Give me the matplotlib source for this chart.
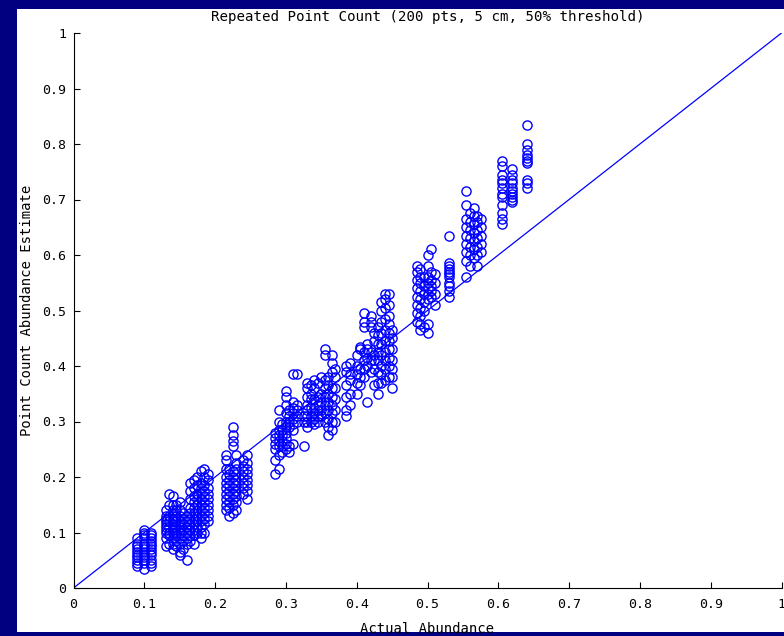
import matplotlib
matplotlib.use("Agg")
import matplotlib.pyplot as plt
from matplotlib.patches import Rectangle

# actual abundance (x) per column and the point count estimates (y)
x_a = [0.09, 0.10, 0.11]
y_a = [[0.040, 0.045, 0.050, 0.055, 0.060, 0.065, 0.070, 0.075, 0.080, 0.090],
       [0.035, 0.045, 0.050, 0.055, 0.060, 0.065, 0.070, 0.075, 0.080, 0.090, 0.095, 0.100, 0.105],
       [0.040, 0.045, 0.050, 0.060, 0.065, 0.070, 0.075, 0.080, 0.085, 0.090, 0.095, 0.100]]

x_b = [0.13, 0.135, 0.14, 0.145, 0.15, 0.155, 0.16]
y_b = [[0.075, 0.090, 0.100, 0.105, 0.110, 0.115, 0.120, 0.125, 0.130, 0.140],
       [0.080, 0.095, 0.100, 0.110, 0.120, 0.130, 0.150, 0.170],
       [0.070, 0.080, 0.090, 0.100, 0.105, 0.110, 0.115, 0.120, 0.125, 0.130, 0.140, 0.150, 0.165],
       [0.075, 0.085, 0.095, 0.100, 0.110, 0.120, 0.130, 0.140, 0.150],
       [0.060, 0.065, 0.080, 0.090, 0.100, 0.105, 0.110, 0.115, 0.120, 0.130, 0.140, 0.155],
       [0.070, 0.085, 0.095, 0.105, 0.115, 0.125, 0.135],
       [0.050, 0.080, 0.090, 0.100, 0.110, 0.120, 0.130]]

x_c = [0.165, 0.17, 0.175, 0.18, 0.185, 0.19]
y_c = [[0.085, 0.095, 0.105, 0.115, 0.125, 0.135, 0.145, 0.160, 0.175, 0.190],
       [0.080, 0.095, 0.105, 0.115, 0.125, 0.135, 0.145, 0.155, 0.165, 0.180, 0.195],
       [0.100, 0.110, 0.120, 0.130, 0.140, 0.150, 0.160, 0.170, 0.185, 0.200],
       [0.090, 0.100, 0.110, 0.120, 0.130, 0.140, 0.150, 0.160, 0.170, 0.180, 0.190, 0.210],
       [0.100, 0.115, 0.125, 0.135, 0.145, 0.155, 0.165, 0.175, 0.185, 0.200, 0.215],
       [0.120, 0.130, 0.140, 0.150, 0.160, 0.170, 0.180, 0.195, 0.205]]

x_d = [0.215, 0.22, 0.225, 0.23, 0.24, 0.245]
y_d = [[0.140, 0.150, 0.160, 0.170, 0.180, 0.190, 0.200, 0.215, 0.230, 0.240],
       [0.130, 0.145, 0.155, 0.165, 0.175, 0.185, 0.195, 0.205, 0.215],
       [0.135, 0.150, 0.160, 0.170, 0.180, 0.190, 0.200, 0.210, 0.255, 0.265, 0.275, 0.290],
       [0.140, 0.155, 0.165, 0.175, 0.185, 0.195, 0.205, 0.215, 0.225, 0.240],
       [0.170, 0.180, 0.190, 0.200, 0.210, 0.220, 0.230],
       [0.160, 0.175, 0.185, 0.195, 0.205, 0.215, 0.225, 0.240]]

x_e = [0.285, 0.29, 0.295, 0.30, 0.305, 0.31, 0.315]
y_e = [[0.205, 0.230, 0.250, 0.260, 0.270, 0.280],
       [0.215, 0.240, 0.255, 0.265, 0.275, 0.285, 0.300, 0.320],
       [0.245, 0.255, 0.265, 0.275, 0.285, 0.295],
       [0.250, 0.260, 0.270, 0.280, 0.290, 0.300, 0.315, 0.330, 0.345, 0.355],
       [0.245, 0.255, 0.290, 0.300, 0.310, 0.320],
       [0.260, 0.285, 0.295, 0.305, 0.315, 0.325, 0.335, 0.385],
       [0.300, 0.310, 0.320, 0.330, 0.385]]

x_f = [0.325, 0.33, 0.335, 0.34, 0.345, 0.35, 0.355, 0.36, 0.365, 0.37]
y_f = [[0.255, 0.300, 0.310],
       [0.290, 0.300, 0.310, 0.320, 0.330, 0.345, 0.360, 0.370],
       [0.300, 0.310, 0.325, 0.340, 0.350, 0.365],
       [0.295, 0.305, 0.315, 0.325, 0.340, 0.360, 0.375],
       [0.300, 0.310, 0.320, 0.330, 0.345, 0.370],
       [0.310, 0.320, 0.335, 0.350, 0.380],
       [0.300, 0.315, 0.330, 0.345, 0.360, 0.375, 0.420, 0.430],
       [0.275, 0.290, 0.305, 0.320, 0.335, 0.350, 0.365, 0.380],
       [0.285, 0.300, 0.315, 0.330, 0.345, 0.360, 0.390, 0.405, 0.420],
       [0.300, 0.320, 0.340, 0.360, 0.380, 0.395]]

x_g = [0.385, 0.39, 0.40, 0.405, 0.41, 0.415, 0.42, 0.425, 0.43, 0.435, 0.44, 0.445, 0.45]
y_g = [[0.310, 0.320, 0.345, 0.365, 0.390, 0.400],
       [0.330, 0.350, 0.375, 0.385, 0.405],
       [0.350, 0.370, 0.385, 0.400, 0.420],
       [0.365, 0.380, 0.395, 0.430, 0.435],
       [0.380, 0.395, 0.410, 0.425, 0.470, 0.480, 0.495],
       [0.335, 0.400, 0.415, 0.430, 0.440],
       [0.390, 0.410, 0.425, 0.470, 0.480, 0.490],
       [0.365, 0.395, 0.410, 0.420, 0.445, 0.460],
       [0.350, 0.370, 0.390, 0.410, 0.425, 0.440, 0.455, 0.470],
       [0.370, 0.385, 0.400, 0.420, 0.440, 0.460, 0.480, 0.500, 0.515],
       [0.375, 0.395, 0.410, 0.425, 0.445, 0.465, 0.485, 0.505, 0.520, 0.530],
       [0.380, 0.400, 0.415, 0.430, 0.445, 0.460, 0.475, 0.490, 0.510, 0.530],
       [0.360, 0.380, 0.395, 0.410, 0.430, 0.450, 0.465]]

x_h = [0.485, 0.49, 0.495, 0.50, 0.505, 0.51, 0.53]
y_h = [[0.480, 0.495, 0.510, 0.525, 0.540, 0.555, 0.570, 0.580],
       [0.465, 0.475, 0.490, 0.505, 0.520, 0.535, 0.550, 0.560, 0.575],
       [0.470, 0.500, 0.515, 0.530, 0.545, 0.560],
       [0.460, 0.475, 0.520, 0.530, 0.540, 0.550, 0.560, 0.580, 0.600],
       [0.525, 0.535, 0.545, 0.555, 0.570, 0.610],
       [0.510, 0.530, 0.550, 0.565],
       [0.525, 0.535, 0.545, 0.550, 0.560, 0.565, 0.570, 0.575, 0.580, 0.585, 0.635]]

x_i = [0.555, 0.56, 0.565, 0.57, 0.575]
y_i = [[0.560, 0.590, 0.605, 0.620, 0.635, 0.650, 0.665, 0.690, 0.715],
       [0.580, 0.600, 0.615, 0.630, 0.645, 0.660, 0.675],
       [0.595, 0.610, 0.625, 0.640, 0.655, 0.670, 0.685],
       [0.580, 0.600, 0.615, 0.630, 0.645, 0.660, 0.670],
       [0.605, 0.620, 0.635, 0.650, 0.665]]

x_j = [0.605, 0.62, 0.64]
y_j = [[0.655, 0.665, 0.675, 0.690, 0.705, 0.710, 0.720, 0.730, 0.735, 0.745, 0.760, 0.770],
       [0.695, 0.700, 0.705, 0.710, 0.715, 0.720, 0.730, 0.735, 0.745, 0.755],
       [0.720, 0.730, 0.735, 0.765, 0.770, 0.775, 0.780, 0.790, 0.800, 0.835]]

ticks = [0, 0.1, 0.2, 0.3, 0.4, 0.5, 0.6, 0.7, 0.8, 0.9, 1]
tick_labels = ["0", "0.1", "0.2", "0.3", "0.4", "0.5", "0.6", "0.7", "0.8", "0.9", "1"]

plt.rcParams['font.family'] = ['DejaVu Sans Mono']
plt.rcParams['font.size'] = 9.5

W, H = 784, 636
fig = plt.figure(figsize=(W / 100, H / 100), dpi=100, facecolor='#000080')
# white panel behind the axes
fig.patches.append(Rectangle((17 / W, 1 - 632 / H), (W - 17) / W, (632 - 9) / H,
                             transform=fig.transFigure, facecolor='white',
                             edgecolor='none', zorder=-5))

ax = fig.add_axes([73.5 / W, 1 - 588 / H, (781.5 - 73.5) / W, (588 - 33) / H])
ax.set_zorder(2)
ax.set_facecolor('white')

xs, ys = [], []
for xc, yc in [(x_a, y_a), (x_b, y_b), (x_c, y_c), (x_d, y_d), (x_e, y_e),
               (x_f, y_f), (x_g, y_g), (x_h, y_h), (x_i, y_i), (x_j, y_j)]:
    for xv, col in zip(xc, yc):
        xs += [xv] * len(col)
        ys += col

ax.plot(xs, ys, 'o', mfc='none', mec='#0000ff', ms=6.6, mew=1.0, clip_on=False)
ax.plot([0, 1], [0, 1], '-', color='#0000ff', lw=0.9)

ax.set_xlim(0, 1)
ax.set_ylim(0, 1)
ax.set_xticks(ticks)
ax.set_xticklabels(tick_labels)
ax.set_yticks(ticks)
ax.set_yticklabels(tick_labels)
ax.tick_params(direction='in', length=4, width=0.8, color='black')
ax.tick_params(axis='x', pad=7)
ax.tick_params(axis='y', pad=5)
for s in ['top', 'right']:
    ax.spines[s].set_visible(False)
for s in ['left', 'bottom']:
    ax.spines[s].set_linewidth(0.8)

ax.set_title('Repeated Point Count (200 pts, 5 cm, 50% threshold)', fontsize=10.2, pad=9)
ax.set_xlabel('Actual Abundance', fontsize=10, labelpad=8)
ax.set_ylabel('Point Count Abundance Estimate', fontsize=10, labelpad=6)

fig.savefig('out.png', dpi=100, facecolor=fig.get_facecolor())
